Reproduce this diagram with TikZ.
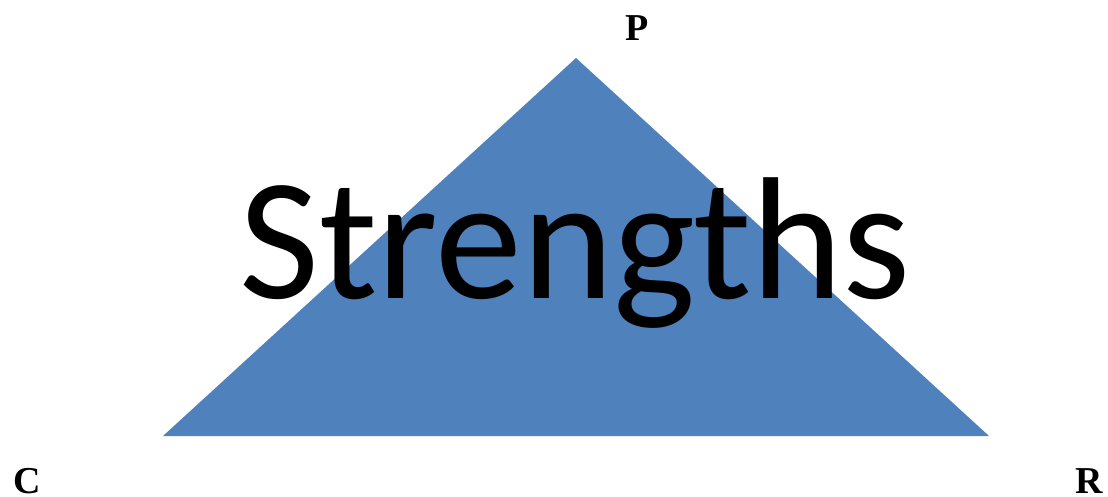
\documentclass[tikz,border=0pt]{standalone}
\usepackage{fontspec}
\setmainfont{Liberation Serif}
\newfontfamily\calibri{Carlito}
\definecolor{triblue}{HTML}{4F81BD}
\begin{document}
\begin{tikzpicture}[x=1pt,y=-1pt,
  corner/.style={font=\fontsize{38}{40}\selectfont\bfseries, inner sep=0pt},
  bigtext/.style={font=\calibri\fontsize{174}{180}\selectfont, inner sep=0pt, anchor=base}]
\useasboundingbox (0,0) rectangle (1108,497);
\coordinate (apex) at (576,58);
\coordinate (bl) at (163,436);
\coordinate (br) at (989,436);
\fill[triblue] (apex) -- (bl) -- (br) -- cycle;
\node[bigtext] (s) at (575,298) {Strengths};
\node[corner, anchor=base west] (p) at (625,41) {P};
\node[corner, anchor=base west] (c) at (13,493) {C};
\node[corner, anchor=base east] (r) at (1103,493) {R};
\end{tikzpicture}
\end{document}
